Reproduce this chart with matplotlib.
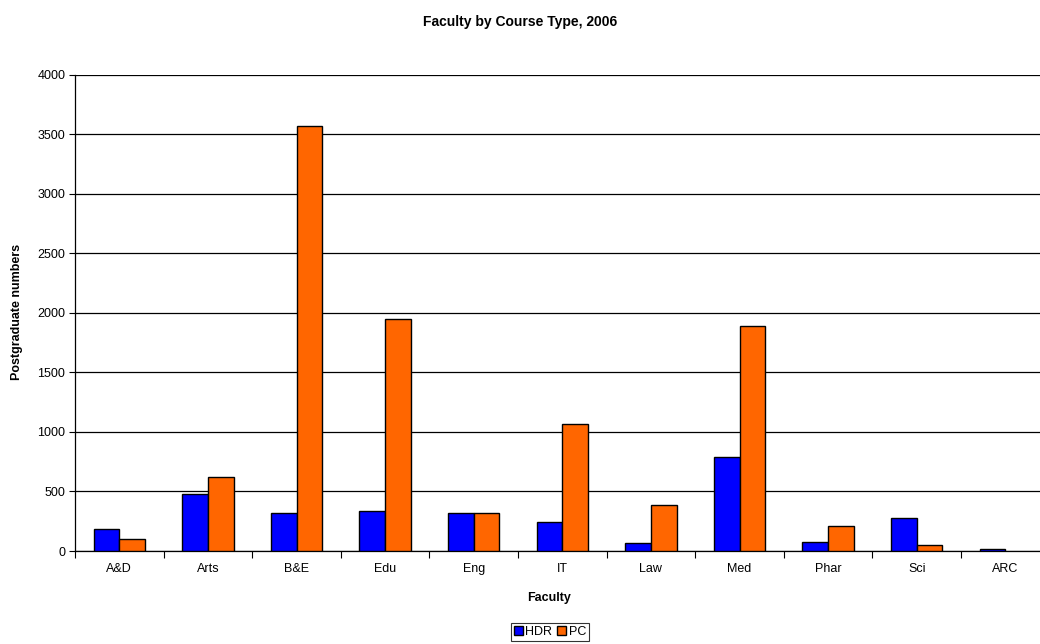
import matplotlib
matplotlib.use("Agg")
import matplotlib.pyplot as plt
import numpy as np

categories = ["A&D", "Arts", "B&E", "Edu", "Eng", "IT", "Law", "Med", "Phar", "Sci", "ARC"]
hdr = [182, 478, 321, 338, 319, 243, 67, 786, 78, 280, 19]
pc = [103, 623, 3571, 1949, 321, 1063, 388, 1893, 212, 50, 0]
yticks = [0, 500, 1000, 1500, 2000, 2500, 3000, 3500, 4000]

plt.rcParams['font.family'] = ['Liberation Sans', 'DejaVu Sans']

fig = plt.figure(figsize=(10.4, 6.44), dpi=100)
ax = fig.add_axes([75/1040, 93/644, 974.6/1040, 476.3/644])

x = np.arange(len(categories))
w = 0.29
ax.bar(x - w/2, hdr, w, color="#0000FF", edgecolor="black", linewidth=1, label="HDR", zorder=3)
pc_lw = [1 if v > 0 else 0 for v in pc]
ax.bar(x + w/2, pc, w, color="#FF6600", edgecolor="black", linewidth=pc_lw, label="PC", zorder=3)

ax.set_xlim(-0.5, len(categories) - 0.5)
ax.set_ylim(0, 4000)
ax.set_yticks(yticks)
ax.set_yticklabels([str(v) for v in yticks], fontsize=9)
ax.yaxis.grid(True, color="black", linewidth=0.9, zorder=0)
ax.set_axisbelow(True)

ax.set_xticks(x)
ax.set_xticklabels(categories, fontsize=9)
for lab in ax.get_xticklabels():
    lab.set_verticalalignment("baseline")
ax.tick_params(axis='x', which='major', length=0, pad=15)
ax.set_xticks(np.arange(-0.5, len(categories), 1), minor=True)
ax.tick_params(axis='x', which='minor', length=5, direction='out', width=0.8)
ax.tick_params(axis='y', length=4, width=0.8, pad=3)

for s in ["top", "right"]:
    ax.spines[s].set_visible(False)
ax.spines["left"].set_linewidth(0.9)
ax.spines["bottom"].set_linewidth(0.9)

fig.text(0.5, 1 - 22/644, "Faculty by Course Type, 2006", ha="center", va="center",
         fontsize=10, fontweight="bold")
fig.text(17/1040, 1 - 312/644, "Postgraduate numbers", rotation=90,
         ha="center", va="center", fontsize=9, fontweight="bold")
fig.text(549/1040, 1 - 598/644, "Faculty", ha="center", va="center", fontsize=9, fontweight="bold")

leg = fig.legend(loc="center", bbox_to_anchor=(550/1040, 1 - 632/644), ncol=2, fontsize=9,
                 frameon=True, fancybox=False, edgecolor="black", handlelength=0.7,
                 handleheight=0.7, handletextpad=0.2, columnspacing=0.4, borderpad=0.25,
                 borderaxespad=0)
leg.get_frame().set_linewidth(0.8)

fig.savefig("out.png", dpi=100)
